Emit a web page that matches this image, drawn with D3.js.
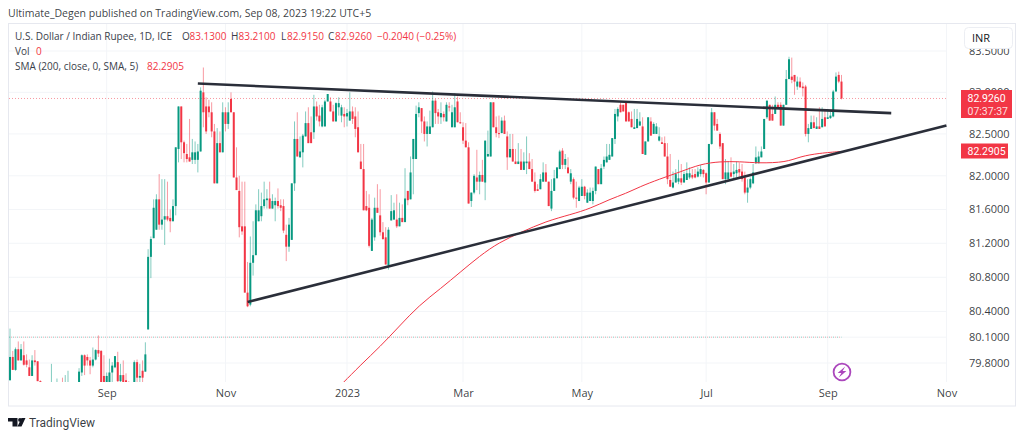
<!DOCTYPE html>
<html>
<head>
<meta charset="utf-8">
<script src="https://cdnjs.cloudflare.com/ajax/libs/d3/7.8.5/d3.min.js"></script>
<style>
  html, body { margin: 0; padding: 0; background: #fff; }
  text { font-family: "Open Sans", Roboto, sans-serif; }
  text.tight { font-family: Roboto, sans-serif; }
</style>
</head>
<body>
<svg id="chart" width="1024" height="437"></svg>
<script>
// daily USD/INR bars, one entry per trading day
const opens = [
  79.60,79.87,79.72,79.96,79.83,79.89,79.83,79.75,79.65,79.83,
  79.82,79.59,79.50,79.45,79.42,79.40,79.48,79.42,79.50,79.50,
  79.42,79.42,79.50,79.44,79.42,79.50,79.69,79.89,79.87,79.83,
  79.77,79.84,79.95,79.94,79.65,79.52,79.50,79.69,79.75,79.81,
  79.59,79.66,79.60,79.57,79.54,79.52,79.81,79.63,79.71,79.70,
  80.19,81.04,81.26,81.36,81.72,81.42,81.48,81.52,81.50,81.46,
  81.64,82.32,82.83,82.40,82.26,82.22,82.19,82.19,82.19,82.29,
  83.00,82.83,82.83,82.76,82.53,81.91,82.39,82.28,82.76,82.62,
  82.92,82.76,81.98,81.82,81.40,81.40,80.62,80.48,80.97,81.06,
  81.46,81.52,81.64,81.71,81.73,81.61,81.65,81.70,81.65,81.64,
  81.30,81.16,81.24,81.91,82.44,82.22,82.28,82.47,82.63,82.52,
  82.52,82.83,82.72,82.59,82.59,82.89,82.89,82.77,82.65,82.82,
  82.72,82.74,82.71,82.66,82.77,82.71,82.58,82.17,82.08,81.64,
  81.62,81.11,81.27,81.62,81.53,81.33,81.27,80.94,81.47,81.48,
  81.48,81.40,81.50,81.45,81.82,81.72,82.20,82.20,82.75,82.81,
  82.65,82.50,82.50,82.58,82.90,82.76,82.70,82.74,82.65,82.83,
  82.58,82.58,82.89,82.64,82.58,82.42,82.34,81.70,81.80,81.98,
  81.93,82.01,81.92,82.23,82.23,82.88,82.58,82.51,82.51,82.66,
  82.47,82.22,82.32,82.17,82.14,82.17,82.07,82.15,82.17,82.08,
  81.93,81.84,81.84,81.93,82.04,81.93,81.61,81.82,81.97,82.08,
  82.30,82.13,82.10,81.93,81.96,81.74,81.70,81.76,81.87,81.68,
  81.70,81.70,81.82,82.08,81.90,82.11,82.16,82.19,82.23,82.44,
  82.71,82.85,82.85,82.88,82.76,82.68,82.56,82.57,82.60,82.59,
  82.25,82.41,82.65,82.50,82.50,82.42,82.40,82.39,82.23,81.95,
  81.86,81.92,81.93,81.97,81.92,81.95,81.98,82.01,82.02,81.99,
  82.02,82.07,82.03,81.92,82.38,82.76,82.62,82.50,82.39,81.96,
  81.96,82.04,82.02,82.03,82.08,82.05,81.98,81.80,81.86,81.91,
  82.15,82.15,82.22,82.32,82.70,82.85,82.74,82.74,82.85,82.85,
  82.60,82.85,83.16,83.19,83.21,83.07,83.13,83.07,83.07,82.50,
  82.56,82.64,82.56,82.59,82.58,82.70,82.68,82.69,82.71,83.01,
  83.21,83.13
];
const highs = [
  80.20,79.94,79.98,80.05,80.02,80.05,79.90,79.84,79.89,79.95,
  79.82,79.60,79.52,79.50,79.50,79.79,79.52,79.62,79.57,79.63,
  79.66,79.71,79.58,79.57,79.50,79.74,79.90,79.90,79.90,79.87,
  79.98,79.96,80.12,79.95,79.89,79.69,79.85,79.81,79.88,79.93,
  79.79,79.83,79.68,79.59,79.56,79.83,79.84,79.79,79.83,80.04,
  81.13,81.28,81.72,81.78,82.02,81.96,81.96,81.93,81.60,81.72,
  82.34,82.83,82.83,82.42,82.38,82.68,82.44,82.41,82.38,83.06,
  83.30,82.94,82.91,82.88,82.62,82.57,82.53,82.88,82.82,82.88,
  83.00,82.76,82.34,82.00,81.93,81.93,80.98,81.28,81.46,81.66,
  81.84,81.80,81.93,81.84,81.93,81.78,81.74,81.85,81.72,81.72,
  81.42,81.50,81.91,82.65,82.76,82.47,82.50,82.77,82.82,82.71,
  82.97,82.89,82.85,82.85,82.91,82.98,82.94,82.85,82.88,82.94,
  82.85,82.82,82.80,83.00,82.83,82.82,82.77,82.38,82.38,81.82,
  81.78,81.50,81.74,81.90,81.84,81.45,81.39,81.39,81.77,81.68,
  81.78,81.68,81.66,82.09,81.82,82.23,82.44,82.84,82.88,82.81,
  82.71,82.65,82.78,83.01,82.92,82.80,82.88,82.77,82.88,82.88,
  82.85,82.99,82.95,82.76,82.64,82.63,82.40,81.80,82.02,82.31,
  82.05,82.19,82.42,82.54,82.88,82.88,82.71,82.72,82.70,82.72,
  82.53,82.50,82.50,82.32,82.39,82.32,82.28,82.47,82.27,82.20,
  82.04,81.90,82.02,82.16,82.14,81.93,81.96,82.07,82.10,82.31,
  82.33,82.26,82.22,82.08,81.98,81.93,81.88,81.96,81.88,81.84,
  81.86,81.86,82.11,82.08,82.14,82.23,82.38,82.38,82.45,82.80,
  82.82,82.88,82.85,82.88,82.77,82.77,82.80,82.80,82.76,82.70,
  82.41,82.70,82.70,82.64,82.63,82.58,82.46,82.47,82.39,82.26,
  82.05,82.08,82.19,82.14,82.05,82.16,82.10,82.08,82.08,82.10,
  82.13,82.08,82.04,82.38,82.81,82.76,82.68,82.52,82.39,82.20,
  82.17,82.22,82.14,82.17,82.16,82.14,82.05,81.96,81.98,82.14,
  82.35,82.29,82.35,82.68,82.90,82.85,82.85,82.95,82.88,82.88,
  82.85,83.27,83.43,83.42,83.21,83.19,83.18,83.12,83.09,82.62,
  82.72,82.72,82.70,82.82,82.82,82.80,82.80,82.77,83.03,83.24,
  83.25,83.21
];
const lows = [
  79.60,79.72,79.71,79.83,79.83,79.77,79.75,79.65,79.65,79.77,
  79.59,79.52,79.40,79.38,79.35,79.35,79.38,79.38,79.40,79.40,
  79.38,79.38,79.40,79.38,79.38,79.45,79.65,79.66,79.77,79.67,
  79.75,79.83,79.87,79.50,79.45,79.48,79.48,79.50,79.74,79.57,
  79.57,79.52,79.50,79.50,79.48,79.50,79.54,79.54,79.54,79.70,
  80.19,80.79,81.26,81.36,81.36,81.36,81.18,81.46,81.33,81.46,
  81.53,82.16,82.20,82.16,82.16,82.17,82.14,82.14,82.04,82.29,
  82.58,82.50,82.70,82.46,81.91,81.91,82.28,82.28,82.53,82.56,
  82.76,81.98,81.83,81.27,81.30,80.62,80.45,80.46,80.82,81.06,
  81.46,81.46,81.61,81.61,81.61,81.61,81.46,81.61,81.58,81.32,
  80.99,81.10,81.24,81.82,82.23,82.22,82.10,82.47,82.39,82.39,
  82.44,82.66,82.59,82.58,82.59,82.89,82.77,82.65,82.65,82.72,
  82.64,82.58,82.59,82.66,82.62,82.46,82.28,82.08,81.59,81.58,
  81.15,81.11,81.23,81.56,81.29,81.24,80.95,80.89,81.47,81.48,
  81.38,81.40,81.45,81.45,81.65,81.72,81.78,82.20,82.70,82.51,
  82.41,82.35,82.50,82.58,82.62,82.62,82.62,82.65,82.65,82.77,
  82.58,82.58,82.64,82.62,82.38,82.34,81.67,81.63,81.78,81.83,
  81.78,81.93,81.71,82.23,82.23,82.58,82.46,82.45,82.51,82.50,
  82.07,82.22,82.17,82.14,82.14,82.07,82.07,82.02,82.08,81.93,
  81.80,81.82,81.84,81.93,81.93,81.64,81.58,81.82,81.97,82.08,
  82.08,82.08,82.03,81.90,81.72,81.62,81.70,81.76,81.72,81.68,
  81.70,81.66,81.78,81.90,81.90,82.08,82.16,82.19,82.23,82.38,
  82.65,82.76,82.77,82.65,82.65,82.58,82.56,82.57,82.60,82.26,
  82.25,82.41,82.48,82.50,82.50,82.41,82.38,82.23,81.90,81.87,
  81.85,81.92,81.90,81.89,81.92,81.95,81.96,81.96,81.97,81.98,
  81.99,81.98,81.78,81.92,82.37,82.54,82.54,82.32,81.96,81.90,
  81.96,81.98,81.96,81.98,81.98,81.93,81.78,81.68,81.84,81.90,
  82.14,82.15,82.22,82.32,82.68,82.66,82.66,82.74,82.80,82.60,
  82.60,82.85,83.16,83.11,82.97,83.03,83.06,82.95,82.47,82.40,
  82.56,82.57,82.56,82.56,82.58,82.59,82.68,82.68,82.70,83.01,
  83.11,82.915
];
const closes = [
  79.87,79.72,79.96,79.83,79.96,79.78,79.78,79.65,79.83,79.81,
  79.59,79.53,79.45,79.42,79.47,79.48,79.42,79.50,79.45,79.45,
  79.50,79.50,79.44,79.42,79.46,79.70,79.89,79.77,79.83,79.77,
  79.84,79.95,79.91,79.55,79.50,79.65,79.69,79.77,79.88,79.59,
  79.66,79.54,79.54,79.52,79.52,79.81,79.63,79.65,79.63,79.90,
  81.04,81.25,81.62,81.72,81.42,81.48,81.52,81.48,81.46,81.64,
  82.34,82.83,82.40,82.27,82.20,82.17,82.28,82.28,82.29,83.02,
  82.76,82.53,82.76,82.53,81.91,82.39,82.28,82.76,82.62,82.76,
  82.76,81.98,81.83,81.39,81.34,80.62,80.46,80.97,81.06,81.59,
  81.59,81.64,81.72,81.73,81.61,81.70,81.70,81.64,81.62,81.35,
  81.16,81.42,81.91,82.44,82.23,82.29,82.48,82.63,82.39,82.39,
  82.83,82.71,82.65,82.82,82.89,82.98,82.77,82.65,82.87,82.87,
  82.82,82.71,82.75,82.77,82.68,82.56,82.28,82.08,81.59,81.59,
  81.17,81.48,81.62,81.56,81.33,81.25,80.95,81.36,81.58,81.59,
  81.40,81.50,81.45,81.73,81.71,82.04,82.44,82.74,82.82,82.65,
  82.50,82.59,82.59,82.90,82.75,82.71,82.75,82.70,82.85,82.82,
  82.76,82.82,82.64,82.63,82.42,82.34,81.67,81.80,82.00,81.93,
  82.01,81.93,82.42,82.26,82.88,82.58,82.51,82.50,82.66,82.50,
  82.22,82.32,82.17,82.14,82.17,82.07,82.17,82.17,82.08,81.93,
  81.82,81.82,81.96,82.04,81.93,81.64,81.82,81.97,82.10,82.29,
  82.13,82.20,82.03,82.03,81.74,81.73,81.86,81.87,81.76,81.80,
  81.80,81.82,82.11,81.90,82.09,82.19,82.23,82.25,82.45,82.74,
  82.80,82.76,82.77,82.65,82.65,82.58,82.58,82.68,82.65,82.26,
  82.41,82.70,82.48,82.62,82.59,82.47,82.38,82.23,81.96,81.87,
  81.92,82.02,81.97,81.92,82.02,82.03,82.03,81.98,81.98,82.05,
  82.08,82.02,81.92,82.38,82.76,82.60,82.54,82.35,81.96,82.04,
  82.04,81.99,82.05,82.07,82.04,81.96,81.80,81.86,81.96,82.04,
  82.22,82.23,82.29,82.68,82.90,82.66,82.66,82.85,82.82,82.60,
  82.85,83.16,83.40,83.15,83.13,83.13,83.06,83.05,82.50,82.57,
  82.64,82.57,82.59,82.56,82.68,82.59,82.70,82.72,83.01,83.19,
  83.13,82.926
];

// SMA 200 readings, [bar index] and [price]
const smaDays = [118,120,127,134,141,148,156,163,170,177,185,194,203,210,217,223,228,235,243,250,257,264,271,281,286,293,301];
const smaValues = [79.50,79.55,79.78,79.99,80.23,80.47,80.67,80.86,81.05,81.21,81.33,81.46,81.54,81.61,81.72,81.79,81.87,81.96,82.05,82.14,82.17,82.17,82.15,82.16,82.23,82.27,82.2905];

// the two hand drawn trend lines on the chart
const upperTrend = { days: [68, 319], prices: [83.106, 82.75] };
const lowerTrend = { days: [86, 339], prices: [80.51, 82.60] };

const priceTicks = [83.5, 83, 82.5, 82, 81.6, 81.2, 80.8, 80.4, 80.1, 79.8];
const timeTickDays = [35, 78, 122, 164, 207, 252, 296, 339];
const timeTickLabels = ["Sep", "Nov", "2023", "Mar", "May", "Jul", "Sep", "Nov"];

const lastPrice = 82.926;
const smaPrice = 82.2905;
const prevLevel = 80.1;

const upColor = "#089981", downColor = "#f23645", gridColor = "#f3f5f8", inkColor = "#131722";

const svg = d3.select("#chart");

const x = d3.scaleLinear().domain([0, 301]).range([10, 841.5]);
const y = d3.scaleLog().domain([83.5, 79.8]).range([51, 363]);

const paneLeft = 9, paneRight = 947, paneTop = 24, paneBottom = 382;

// outer frame
svg.append("rect")
  .attr("x", 8.5).attr("y", 23.5)
  .attr("width", 1007).attr("height", 382.5)
  .attr("fill", "#fff").attr("stroke", "#e6e8ef");

svg.append("clipPath").attr("id", "pane").append("rect")
  .attr("x", paneLeft).attr("y", paneTop)
  .attr("width", paneRight - paneLeft).attr("height", paneBottom - paneTop);

// grid
svg.append("g").selectAll("line").data(priceTicks).enter().append("line")
  .attr("x1", paneLeft).attr("x2", paneRight)
  .attr("y1", d => y(d)).attr("y2", d => y(d))
  .attr("stroke", gridColor);
svg.append("g").selectAll("line").data(timeTickDays).enter().append("line")
  .attr("x1", d => x(d)).attr("x2", d => x(d))
  .attr("y1", paneTop).attr("y2", paneBottom)
  .attr("stroke", gridColor);

const pane = svg.append("g").attr("clip-path", "url(#pane)");

// level lines
pane.append("line")
  .attr("x1", paneLeft).attr("x2", x(301))
  .attr("y1", y(prevLevel)).attr("y2", y(prevLevel))
  .attr("stroke", upColor).attr("stroke-opacity", 0.45).attr("stroke-dasharray", "1 3");
pane.append("line")
  .attr("x1", paneLeft + 2).attr("x2", x(301))
  .attr("y1", y(prevLevel)).attr("y2", y(prevLevel))
  .attr("stroke", downColor).attr("stroke-opacity", 0.4).attr("stroke-dasharray", "1 3");
pane.append("line")
  .attr("x1", paneLeft).attr("x2", paneRight)
  .attr("y1", y(lastPrice)).attr("y2", y(lastPrice))
  .attr("stroke", downColor).attr("stroke-opacity", 0.5).attr("stroke-dasharray", "1 2");

// candles
const bars = opens.map((o, i) => ({ i, o, h: highs[i], l: lows[i], c: closes[i] }));
const candle = pane.selectAll(".candle").data(bars).enter().append("g").attr("class", "candle");
candle.append("line")
  .attr("x1", d => x(d.i)).attr("x2", d => x(d.i))
  .attr("y1", d => y(d.h)).attr("y2", d => y(d.l))
  .attr("stroke", d => d.c >= d.o ? upColor : downColor)
  .attr("stroke-opacity", 0.5);
candle.append("rect")
  .attr("x", d => x(d.i) - 1)
  .attr("width", 2)
  .attr("y", d => y(Math.max(d.o, d.c)))
  .attr("height", d => Math.max(1, Math.abs(y(d.o) - y(d.c))))
  .attr("fill", d => d.c >= d.o ? upColor : downColor);

// moving average
const smaLine = d3.line()
  .x(d => x(d[0]))
  .y(d => y(d[1]))
  .curve(d3.curveBasis);
pane.append("path")
  .datum(smaDays.map((d, i) => [d, smaValues[i]]))
  .attr("d", smaLine)
  .attr("fill", "none").attr("stroke", "#f23645").attr("stroke-width", 1);

// trend lines
[upperTrend, lowerTrend].forEach(t => {
  pane.append("line")
    .attr("x1", x(t.days[0])).attr("y1", y(t.prices[0]))
    .attr("x2", x(t.days[1])).attr("y2", y(t.prices[1]))
    .attr("stroke", "#2a2e39").attr("stroke-width", 2.6);
});

// axes
const priceAxis = d3.axisRight(y)
  .tickValues(priceTicks)
  .tickSize(0).tickPadding(0)
  .tickFormat(d3.format(".4f"));
const gPrice = svg.append("g")
  .attr("transform", `translate(969, 0)`)
  .call(priceAxis);
gPrice.select(".domain").remove();
gPrice.selectAll("text").attr("font-size", 11).attr("fill", inkColor).attr("fill-opacity", 0.85);

const timeAxis = d3.axisBottom(x)
  .tickValues(timeTickDays)
  .tickSize(0).tickPadding(0)
  .tickFormat((d, i) => timeTickLabels[i]);
const gTime = svg.append("g")
  .attr("transform", `translate(0, 389)`)
  .call(timeAxis);
gTime.select(".domain").remove();
gTime.selectAll("text").attr("font-size", 11).attr("fill", inkColor).attr("fill-opacity", 0.85);

// currency button, sits on top of the first price label
svg.append("rect")
  .attr("x", 964.5).attr("y", 27.5).attr("width", 48).attr("height", 21).attr("rx", 4)
  .attr("fill", "#fff").attr("stroke", "#eceef3");
svg.append("text").attr("x", 972).attr("y", 42)
  .attr("font-size", 11).attr("fill", inkColor).text("INR");

// price badges
svg.append("rect").attr("x", 961).attr("y", 90).attr("width", 51).attr("height", 28).attr("fill", downColor);
svg.append("text").attr("class", "tight").attr("x", 967.5).attr("y", 101.5)
  .attr("font-size", 10.5).attr("fill", "#fff").text(d3.format(".4f")(lastPrice));
svg.append("text").attr("class", "tight").attr("x", 967.5).attr("y", 114.5)
  .attr("font-size", 10.5).attr("fill", "#fff").attr("fill-opacity", 0.85).text("07:37:37");
svg.append("rect").attr("x", 961).attr("y", 143.5).attr("width", 47).attr("height", 15).attr("fill", downColor);
svg.append("text").attr("class", "tight").attr("x", 967.5).attr("y", 155)
  .attr("font-size", 10.5).attr("fill", "#fff").text(d3.format(".4f")(smaPrice));

// header and legend
svg.append("text").attr("x", 8).attr("y", 17).attr("font-size", 10.5).attr("fill", inkColor).attr("fill-opacity", 0.85)
  .text("Ultimate_Degen published on TradingView.com, Sep 08, 2023 19:22 UTC+5");

const legendLabel = (lx, ly, t, color) => svg.append("text")
  .attr("x", lx).attr("y", ly).attr("font-size", 10).attr("fill", color).text(t);
const legendInk = "#3a3e4a";
legendLabel(15, 40, "U.S. Dollar / Indian Rupee, 1D, ICE", legendInk);
legendLabel(182, 40, "O", legendInk);
legendLabel(189.5, 40, "83.1300", downColor);
legendLabel(231, 40, "H", legendInk);
legendLabel(238.5, 40, "83.2100", downColor);
legendLabel(281, 40, "L", legendInk);
legendLabel(287, 40, "82.9150", downColor);
legendLabel(328, 40, "C", legendInk);
legendLabel(335, 40, "82.9260", downColor);
legendLabel(377, 40, "\u22120.2040 (\u22120.25%)", downColor);
legendLabel(15, 55, "Vol", legendInk);
legendLabel(36, 55, "0", downColor);
legendLabel(15, 70, "SMA (200, close, 0, SMA, 5)", legendInk);
legendLabel(147, 70, d3.format(".4f")(smaPrice), downColor);

// lightning badge below the last bars
const bolt = svg.append("g").attr("transform", `translate(842, 372)`);
bolt.append("circle").attr("r", 8.4).attr("fill", "#fff").attr("stroke", "#ab47bc").attr("stroke-width", 1.8);
bolt.append("path").attr("d", "M3.2 -5.4 L-4.4 1 L-0.6 1 L-3.2 5.4 L4.4 -1.1 L0.6 -1.1 Z").attr("fill", "#ab47bc");

// footer logo
const logo = svg.append("g").attr("transform", "translate(8, 417)").attr("fill", inkColor);
logo.append("path").attr("d", "M0 1 H9.5 V9.5 H4.5 V4.5 H0 Z");
logo.append("circle").attr("cx", 12).attr("cy", 2.9).attr("r", 1.9);
logo.append("path").attr("d", "M13 9.5 L17 1 H21 L17 9.5 Z").attr("transform", "translate(-3.5, 0)");
svg.append("text").attr("class", "tight").attr("x", 29).attr("y", 426.5).attr("font-size", 12).attr("fill", inkColor).attr("fill-opacity", 0.85)
  .text("TradingView");
</script>
</body>
</html>
